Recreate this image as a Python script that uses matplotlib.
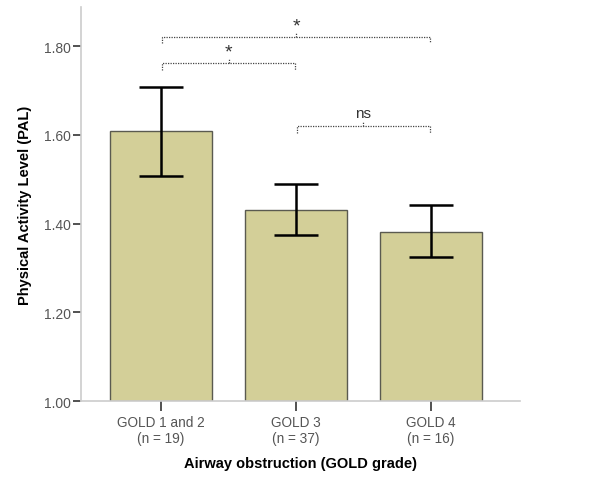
import numpy as np
import matplotlib
matplotlib.use('Agg')
import matplotlib.pyplot as plt

plt.rcParams['font.family'] = ['Liberation Sans', 'DejaVu Sans']

# data
groups = ['GOLD 1 and 2', 'GOLD 3', 'GOLD 4']
counts = [19, 37, 16]
means = [1.608, 1.430, 1.382]
ci_low = [1.506, 1.374, 1.324]
ci_high = [1.708, 1.488, 1.442]

# significance brackets: (bar a, bar b, bracket level, label)
pairs_a = [0, 0, 1]
pairs_b = [2, 1, 2]
levels = [1.821, 1.762, 1.620]
sig_labels = ['*', '*', 'ns']

fig = plt.figure(figsize=(6, 4.81), dpi=100)
ax = fig.add_axes([0.135, 0.1642, 0.7317, 0.8192])

x = np.arange(len(groups))
means = np.array(means)
yerr = np.vstack([means - np.array(ci_low), np.array(ci_high) - means])

ax.bar(x, means - 1.0, bottom=1.0, width=0.75, color='#d3cf98',
       edgecolor='#5a5a50', linewidth=1.0, zorder=2)
ax.errorbar(x, means, yerr=yerr, fmt='none', ecolor='black',
            elinewidth=1.8, capsize=15.5, capthick=1.8, zorder=3)

ax.set_ylim(1.0, 1.888)
ax.set_xlim(-0.593, 2.66)
ax.set_yticks([1.0, 1.2, 1.4, 1.6, 1.8])
ax.set_yticklabels(['%.2f' % v for v in [1.0, 1.2, 1.4, 1.6, 1.8]])
ax.set_xticks(x)
ax.set_xticklabels(['%s\n(n = %d)' % (g, n) for g, n in zip(groups, counts)],
                   linespacing=1.2)

for s in ['top', 'right']:
    ax.spines[s].set_visible(False)
for s in ['left', 'bottom']:
    ax.spines[s].set_color('#cccccc')
    ax.spines[s].set_linewidth(1.2)

ax.tick_params(axis='y', length=6, width=1.2, color='#333333',
               labelcolor='#555555', labelsize=10, pad=1)
ax.tick_params(axis='x', length=7, width=1.2, color='#333333',
               labelcolor='#555555', labelsize=9.8, pad=3)

ax.set_ylabel('Physical Activity Level (PAL)', fontsize=10.5,
              fontweight='bold', labelpad=9)
ax.set_xlabel('Airway obstruction (GOLD grade)', fontsize=10.5,
              fontweight='bold', labelpad=8)

# brackets
drop = 0.015
dot = (0, (1, 1))
for a, b, lv, lab in zip(pairs_a, pairs_b, levels, sig_labels):
    xa, xb = x[a] + 0.01, x[b] - 0.01
    ax.plot([xa, xa, xb, xb], [lv - drop, lv, lv, lv - drop], ls=dot,
            color='#444444', lw=0.9, zorder=4)
    xm = (xa + xb) / 2
    ax.plot([xm, xm], [lv, lv + 0.01], ls=dot, color='#444444', lw=0.9)
    if lab == '*':
        ax.text(xm, lv + 0.006, lab, ha='center', va='bottom',
                fontsize=14, color='#333333')
    else:
        ax.text(xm, lv + 0.014, lab, ha='center', va='bottom',
                fontsize=11, color='#333333')

fig.savefig('out.png', dpi=100)
